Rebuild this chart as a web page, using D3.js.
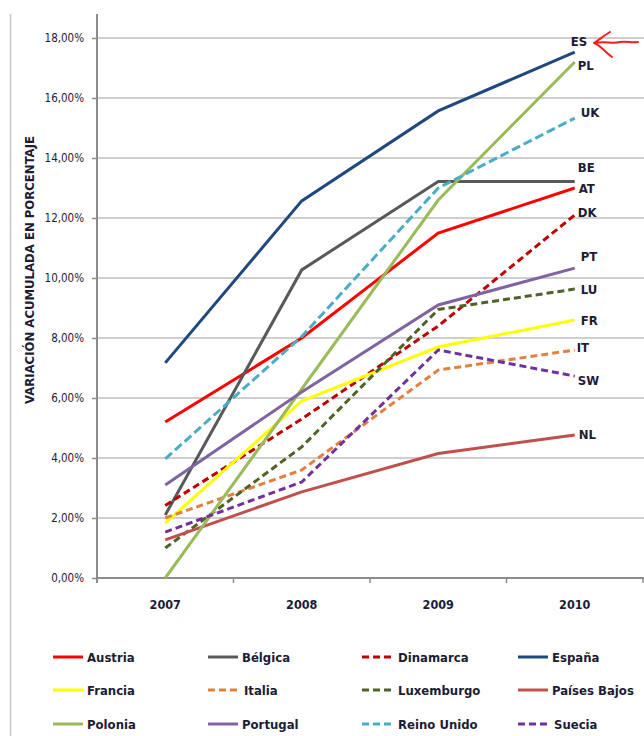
<!DOCTYPE html>
<html>
<head>
<meta charset="utf-8">
<script src="https://cdn.jsdelivr.net/npm/d3@7"></script>
<style>
  html, body { margin: 0; padding: 0; background: #ffffff; }
  svg { display: block; }
  text { font-family: "Liberation Sans Narrow", "DejaVu Sans Condensed", "Open Sans", sans-serif; fill: #1c1c34; }
</style>
</head>
<body>
<svg id="chart" width="644" height="736"></svg>
<script>
// Cumulative variation (%) per country, 2007-2010
const years = ["2007", "2008", "2009", "2010"];

const austria     = [5.20, 8.00, 11.50, 13.00];
const belgica     = [2.10, 10.27, 13.22, 13.22];
const dinamarca   = [2.42, 5.30, 8.40, 12.10];
const espana      = [7.17, 12.57, 15.57, 17.53];
const francia     = [1.83, 5.90, 7.70, 8.60];
const italia      = [2.00, 3.60, 6.93, 7.60];
const luxemburgo  = [1.00, 4.37, 8.95, 9.63];
const paisesBajos = [1.27, 2.87, 4.15, 4.77];
const polonia     = [0.00, 6.30, 12.60, 17.20];
const portugal    = [3.10, 6.20, 9.10, 10.33];
const reinoUnido  = [3.97, 8.05, 13.00, 15.33];
const suecia      = [1.53, 3.20, 7.60, 6.73];

const seriesNames = ["Austria", "Bélgica", "Dinamarca", "España", "Francia", "Italia",
                     "Luxemburgo", "Países Bajos", "Polonia", "Portugal", "Reino Unido", "Suecia"];
const seriesValues = [austria, belgica, dinamarca, espana, francia, italia,
                      luxemburgo, paisesBajos, polonia, portugal, reinoUnido, suecia];
const countryCodes = ["AT", "BE", "DK", "ES", "FR", "IT", "LU", "NL", "PL", "PT", "UK", "SW"];

const yTicks = [0, 2, 4, 6, 8, 10, 12, 14, 16, 18];

// Line styles per series
const colors = ["#ff0000", "#595959", "#c00000", "#1f497d", "#ffff00", "#e2803f",
                "#4f6228", "#c0504d", "#9bbb59", "#8064a2", "#4bacc6", "#7030a0"];
const dashes = [null, null, "7,4", null, null, "7,4", "7,4", null, null, null, "9,4", "7,4"];

// End-label placement (value-axis units, pixel nudge to the right of the last point)
const labelLevel = [12.97, 13.67, 12.20, 17.87, 8.60, 7.70, 9.63, 4.77, 17.07, 10.73, 15.53, 6.60];
const labelShift = [4, 3, 3, -4, 6, 2, 6, 4, 3, 6, 6, 3];

const svg = d3.select("#chart");

const plot = { left: 97, right: 643, top: 14, bottom: 578 };

const x = d3.scaleBand().domain(years).range([plot.left, plot.right]);
const y = d3.scaleLinear().domain([0, 18]).range([plot.bottom, plot.bottom - 18 * 30]);
const cx = d => x(d) + x.bandwidth() / 2;

// Outer frame edge on the left
svg.append("line")
  .attr("x1", 10.5).attr("x2", 10.5).attr("y1", 14).attr("y2", 736)
  .attr("stroke", "#c8c8c8").attr("stroke-width", 1.5);

// Horizontal gridlines
svg.append("g").selectAll("line")
  .data(yTicks.filter(t => t > 0))
  .join("line")
  .attr("x1", plot.left).attr("x2", 644)
  .attr("y1", d => y(d)).attr("y2", d => y(d))
  .attr("stroke", "#bfbfbf").attr("stroke-width", 1.6);

// Y axis
const yAxis = svg.append("g")
  .attr("transform", `translate(${plot.left},0)`)
  .call(d3.axisLeft(y).tickValues(yTicks).tickSize(5).tickPadding(8)
    .tickFormat(d => d.toFixed(2).replace(".", ",") + "%"));
yAxis.attr("font-family", null);
yAxis.select(".domain").remove();
yAxis.selectAll(".tick line").attr("stroke", "#8c8c8c").attr("stroke-width", 1.5);
yAxis.selectAll(".tick text").attr("font-size", 11.5).attr("fill", "#1c1c34");

svg.append("line")
  .attr("x1", plot.left).attr("x2", plot.left).attr("y1", plot.top).attr("y2", plot.bottom + 5)
  .attr("stroke", "#8c8c8c").attr("stroke-width", 2);

// X axis
const xAxis = svg.append("g")
  .attr("transform", `translate(0,${plot.bottom})`)
  .call(d3.axisBottom(x).tickSize(0).tickPadding(22));
xAxis.attr("font-family", null);
xAxis.select(".domain").remove();
xAxis.selectAll(".tick text").attr("font-size", 12.5).attr("font-weight", "bold").attr("fill", "#1c1c34");

svg.append("line")
  .attr("x1", plot.left).attr("x2", plot.right + 1).attr("y1", plot.bottom).attr("y2", plot.bottom)
  .attr("stroke", "#8c8c8c").attr("stroke-width", 2.2);

svg.append("g").selectAll("line")
  .data(years.map(d => x(d)).concat([x(years[years.length - 1]) + x.bandwidth()]))
  .join("line")
  .attr("x1", d => d).attr("x2", d => d)
  .attr("y1", plot.bottom).attr("y2", plot.bottom + 5)
  .attr("stroke", "#8c8c8c").attr("stroke-width", 1.5);

// Y axis title
svg.append("text")
  .attr("transform", `translate(34,270) rotate(-90)`)
  .attr("text-anchor", "middle")
  .attr("font-size", 11.5).attr("font-weight", "bold")
  .attr("textLength", 268).attr("lengthAdjust", "spacingAndGlyphs")
  .text("VARIACIÓN ACUMULADA EN PORCENTAJE");

// Series lines
const line = d3.line().x((d, i) => cx(years[i])).y(d => y(d));

svg.append("g").selectAll("path")
  .data(seriesValues)
  .join("path")
  .attr("d", d => line(d))
  .attr("fill", "none")
  .attr("stroke", (d, i) => colors[i])
  .attr("stroke-width", 3)
  .attr("stroke-dasharray", (d, i) => dashes[i]);

// End labels
svg.append("g").selectAll("text")
  .data(countryCodes)
  .join("text")
  .attr("x", (d, i) => cx(years[years.length - 1]) + labelShift[i])
  .attr("y", (d, i) => y(labelLevel[i]))
  .attr("dy", "0.35em")
  .attr("font-size", 13).attr("font-weight", "bold")
  .text(d => d);

// Red hand-drawn arrow pointing at ES
svg.append("path")
  .attr("d", "M595,43 C605,41 612,44 620,42 C627,41 632,43 638,42 M594,43 C600,39 605,35 610,32 M594,43 C600,45 603,50 612,57")
  .attr("fill", "none").attr("stroke", "#ff1a1a").attr("stroke-width", 2)
  .attr("stroke-linecap", "round");

// Legend
const legendCols = [53, 208, 362, 518];
const legendRows = [657, 690, 724];
const legend = svg.append("g").selectAll("g")
  .data(seriesNames)
  .join("g")
  .attr("transform", (d, i) => `translate(${legendCols[i % 4]},${legendRows[Math.floor(i / 4)]})`);

legend.append("line")
  .attr("x1", 0).attr("x2", 30).attr("y1", 0).attr("y2", 0)
  .attr("stroke", (d, i) => colors[i])
  .attr("stroke-width", 3)
  .attr("stroke-dasharray", (d, i) => dashes[i] ? "7,4" : null);

legend.append("text")
  .attr("x", (d, i) => dashes[i] ? 36 : 34)
  .attr("y", 0).attr("dy", "0.35em")
  .attr("font-size", 13).attr("font-weight", "bold")
  .text(d => d);
</script>
</body>
</html>
